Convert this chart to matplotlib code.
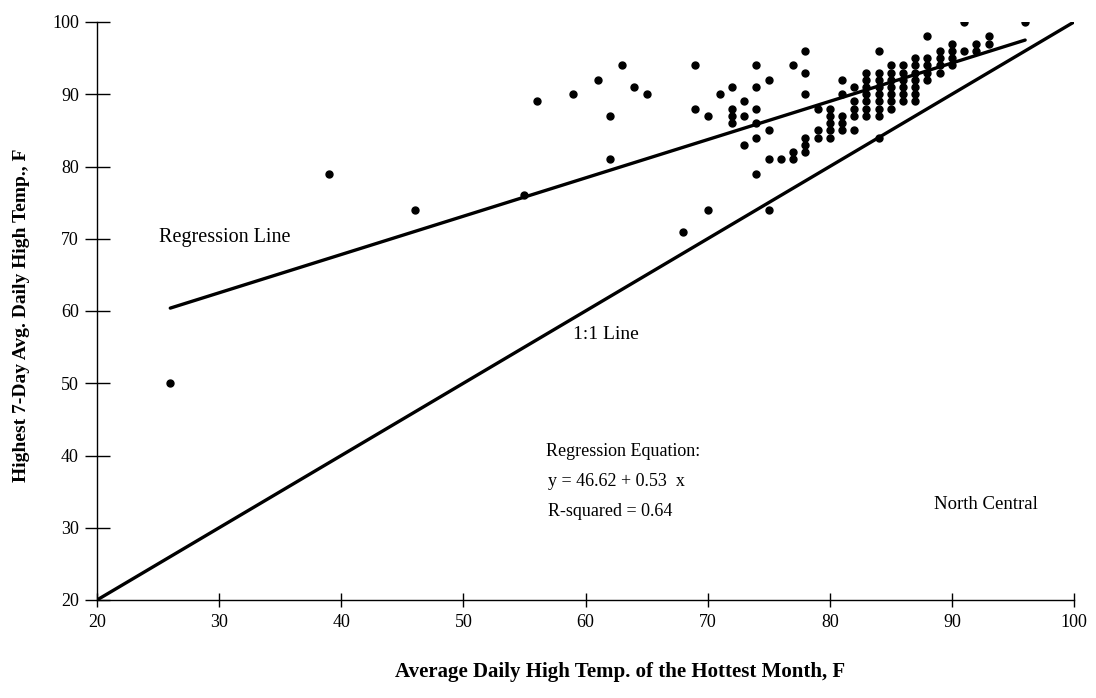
import matplotlib
matplotlib.use("Agg")
import matplotlib.pyplot as plt
import numpy as np

# ---- data ----
x_vals = [26, 39, 46, 55, 56, 59, 61, 62, 62, 63, 64, 65, 68, 69, 69, 70, 70, 71,
          72, 72, 72, 72, 73, 73, 73, 74, 74, 74, 74, 74, 74, 75, 75, 75, 75, 76,
          77, 77, 77, 78, 78, 78, 78, 78, 78, 79, 79, 79,
          80, 80, 80, 80, 80, 81, 81, 81, 81, 81, 82, 82, 82, 82, 82,
          83, 83, 83, 83, 83, 83, 83, 84, 84, 84, 84, 84, 84, 84, 84, 84,
          85, 85, 85, 85, 85, 85, 85, 86, 86, 86, 86, 86, 86,
          87, 87, 87, 87, 87, 87, 87, 88, 88, 88, 88, 88, 89, 89, 89, 89,
          90, 90, 90, 90, 91, 91, 92, 92, 93, 93, 96]
y_vals = [50, 79, 74, 76, 89, 90, 92, 87, 81, 94, 91, 90, 71, 94, 88, 87, 74, 90,
          91, 88, 87, 86, 89, 87, 83, 94, 91, 88, 86, 84, 79, 92, 85, 81, 74, 81,
          94, 82, 81, 96, 93, 90, 84, 83, 82, 88, 85, 84,
          88, 87, 86, 85, 84, 92, 90, 87, 86, 85, 91, 89, 88, 87, 85,
          93, 92, 91, 90, 89, 88, 87, 96, 93, 92, 91, 90, 89, 88, 87, 84,
          94, 93, 92, 91, 90, 89, 88, 94, 93, 92, 91, 90, 89,
          95, 94, 93, 92, 91, 90, 89, 98, 95, 94, 93, 92, 96, 95, 94, 93,
          97, 96, 95, 94, 100, 96, 97, 96, 98, 97, 100]

reg_intercept = 46.62
reg_slope = 0.53
reg_x_range = [26, 96]
one_to_one = [20, 100]

x_ticks = [20, 30, 40, 50, 60, 70, 80, 90, 100]
y_ticks = [20, 30, 40, 50, 60, 70, 80, 90, 100]

plt.rcParams['font.family'] = ['Liberation Serif', 'DejaVu Serif']

W, H = 1096, 698
L, R, T, B = 97, 1074, 22, 600
fig = plt.figure(figsize=(W / 100, H / 100), dpi=100)
ax = fig.add_axes([L / W, 1 - B / H, (R - L) / W, (B - T) / H])

ax.plot(x_vals, y_vals, 'o', color='black', markersize=5, zorder=3)

rx = np.array(reg_x_range, dtype=float)
ax.plot(rx, reg_intercept + reg_slope * rx, color='black', lw=2.4,
        solid_capstyle='round', zorder=2)
ax.plot(one_to_one, one_to_one, color='black', lw=2.4,
        solid_capstyle='round', zorder=2)

ax.set_xlim(20, 100)
ax.set_ylim(20, 100)
ax.set_xticks(x_ticks)
ax.set_yticks(y_ticks)
ax.set_xticklabels([str(t) for t in x_ticks], fontsize=13)
ax.set_yticklabels([str(t) for t in y_ticks], fontsize=13)

for s in ['top', 'right']:
    ax.spines[s].set_visible(False)
ax.spines['left'].set_linewidth(1.0)
ax.spines['bottom'].set_linewidth(1.0)

ax.tick_params(axis='y', direction='inout', length=18, width=1.0, pad=4)
ax.tick_params(axis='x', direction='inout', length=10, width=1.0, pad=5)

fig.text(620 / W, 1 - 672 / H, 'Average Daily High Temp. of the Hottest Month, F',
         fontsize=15, fontweight='bold', ha='center', va='center')
fig.text(22 / W, 1 - 315 / H, 'Highest 7-Day Avg. Daily High Temp., F',
         fontsize=14, fontweight='bold', ha='center', va='center', rotation=90)

ax.text(25.1, 70.2, 'Regression Line', fontsize=14.5, va='center', ha='left')
ax.text(59.0, 56.7, '1:1 Line', fontsize=14, va='center', ha='left')
ax.text(56.8, 40.5, 'Regression Equation:', fontsize=13, va='center', ha='left')
ax.text(56.9, 36.4, 'y = 46.62 + 0.53  x', fontsize=13, va='center', ha='left')
ax.text(56.9, 32.2, 'R-squared = 0.64', fontsize=13, va='center', ha='left')
ax.text(88.5, 33.2, 'North Central', fontsize=13.5, va='center', ha='left')

fig.savefig('out.png', dpi=100)
